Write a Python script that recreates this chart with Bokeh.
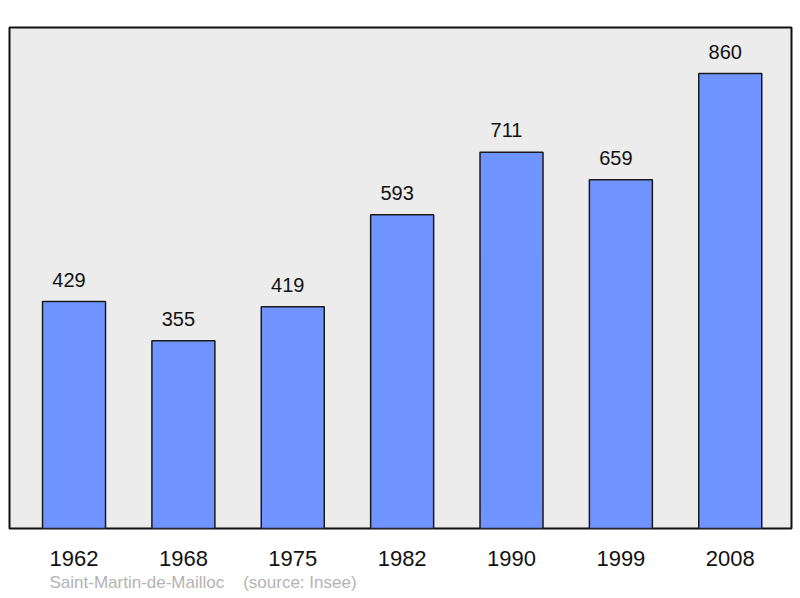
from bokeh.plotting import figure
from bokeh.models import Range1d, Title, FixedTicker
from bokeh.core.properties import value
from bokeh.embed import file_html
from bokeh.resources import INLINE

years = ["1962", "1968", "1975", "1982", "1990", "1999", "2008"]
population = [429, 355, 419, 593, 711, 659, 860]
town = "Saint-Martin-de-Mailloc"
source = "(source: Insee)"

xs = list(range(len(years)))
labels = [str(v) for v in population]

p = figure(width=800, height=598, output_backend="svg", toolbar_location=None,
           x_range=Range1d(-0.59, 6.56), y_range=Range1d(0, 947),
           min_border_left=9, min_border_right=9, min_border_top=27, min_border_bottom=70)

p.background_fill_color = "#ececec"
p.border_fill_color = "white"
p.outline_line_color = "#111111"
p.outline_line_width = 2
p.grid.visible = False
p.yaxis.visible = False

p.vbar(x=xs, top=population, bottom=0, width=0.576, fill_color="#7094ff",
       line_color="#1a1a1a", line_width=1.5)

p.text(x=xs, y=population, text=labels, x_offset=-5, y_offset=-22, text_align="center",
       text_baseline="middle", text_font=value("Liberation Sans"),
       text_font_size="20px", text_color="#111111")

ax = p.xaxis[0]
ax.ticker = FixedTicker(ticks=xs)
ax.major_label_overrides = {i: y for i, y in zip(xs, years)}
ax.axis_line_color = None
ax.major_tick_line_color = None
ax.minor_tick_line_color = None
ax.major_label_text_font = "Liberation Sans"
ax.major_label_text_font_size = "22px"
ax.major_label_text_color = "#111111"
ax.major_label_standoff = 16

footer = town + "\u00a0\u00a0\u00a0\u00a0" + source
p.add_layout(Title(text=footer, align="left", offset=40, text_font="Liberation Sans",
                   text_font_size="17px", text_font_style="normal",
                   text_color="#b3b3b3", standoff=4), "below")

open("out.html", "w").write(file_html(p, INLINE))
